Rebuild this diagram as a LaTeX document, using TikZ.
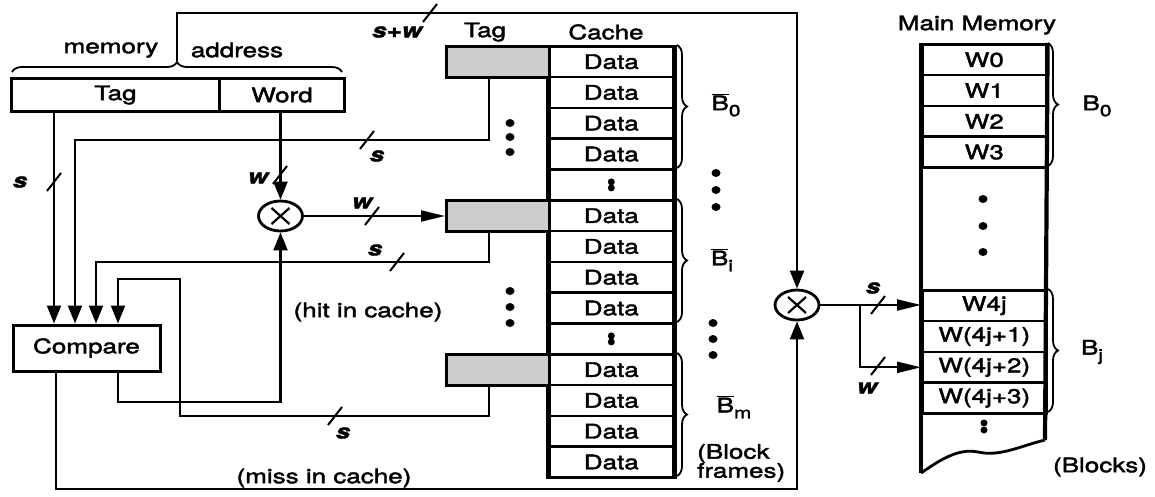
\documentclass[tikz,border=0pt]{standalone}
\usepackage{fontspec}
\setmainfont[FakeStretch=1.3,FakeBold=2]{TeX Gyre Heros}
\usetikzlibrary{arrows.meta,shapes.geometric,decorations.pathreplacing,calc}
\newcommand\busmark[1]{\draw[bus] ($(#1)+(-7,9)$) -- ($(#1)+(7,-9)$);}
\newcommand\obarB{$\overline{\mbox{B}}$}
\begin{document}
\begin{tikzpicture}[x=1pt,y=-1pt,
  every node/.style={font=\fontsize{20}{22}\selectfont, inner sep=0pt},
  wire/.style={line width=2.2pt},
  varr/.style={wire,-{Triangle[length=18pt,width=14pt]}},
  harr/.style={wire,-{Triangle[length=24pt,width=11pt]}},
  fieldbox/.style={draw,line width=3pt,minimum height=33pt,anchor=north west},
  rowbox/.style={draw,line width=2.6pt,minimum width=124pt,minimum height=30.8pt,anchor=north west},
  tagbox/.style={draw,line width=3pt,fill=black!20,minimum width=103pt,minimum height=30.8pt,anchor=north west},
  mult/.style={draw,ellipse,line width=2.8pt,minimum width=44pt,minimum height=30pt},
  bus/.style={line width=2pt},
  lbl/.style={font=\fontsize{20}{22}\selectfont\bfseries\itshape},
  brc/.style={decorate,decoration={brace,amplitude=10pt},line width=1.8pt},
  bigdot/.style={fill,ellipse,minimum width=9pt,minimum height=8pt},
  pairdot/.style={fill,circle,minimum size=7pt}
]
\useasboundingbox (0,0) rectangle (1155,496);

% ---- memory address
\node[fieldbox,minimum width=208pt] (tagf) at (10,77) {Tag};
\node[fieldbox,minimum width=125pt] (wordf) at (218,77) {Word};
\draw[brc] (12,72) -- (342,72);
\coordinate (addrtip) at (177,61);
\node (tmem) at (111,50) {memory};
\node (taddr) at (237,50) {address};

% ---- compare and multiplexers
\node[draw,line width=3pt,minimum width=147pt,minimum height=46pt] (cmp) at (86.5,348) {Compare};
\node[mult] (m1) at (280.5,216) {};
\node[mult] (m2) at (797,305) {};
\foreach \m in {m1,m2}{
  \draw[line width=2.2pt] ([shift={(-9,-8)}]\m.center) -- ([shift={(9,8)}]\m.center);
  \draw[line width=2.2pt] ([shift={(-9,8)}]\m.center) -- ([shift={(9,-8)}]\m.center);
}

% ---- cache
\node (ttag) at (485,32) {Tag};
\node (tcache) at (606,32) {Cache};
\foreach \i in {0,1,2,3,5,6,7,8,10,11,12,13}
  \node[rowbox] (d\i) at (548,{45+\i*30.8}) {Data};
\foreach \i in {4,9}{
  \node[rowbox] (d\i) at (548,{45+\i*30.8}) {};
  \node[pairdot] (dp\i a) at ($(d\i.center)+(0,-3)$) {};
  \node[pairdot] (dp\i b) at ($(d\i.center)+(0,3)$) {};
}
\draw[line width=4.2pt] (d0.north west) -- (d13.south west);
\draw[line width=4.2pt] (d0.north east) -- (d13.south east);
\node[tagbox] (tB0) at (445,45) {};
\node[tagbox] (tBi) at (445,199) {};
\node[tagbox] (tBm) at (445,353) {};

\draw[brc] (677,45) -- (677,168);
\draw[brc] (677,199) -- (677,322);
\draw[brc] (677,353) -- (677,476);
\node (lB0) at (726,105) {\obarB\raisebox{-0.3em}{\fontsize{16}{16}\selectfont 0}};
\node (lBi) at (722,260) {\obarB\raisebox{-0.3em}{\fontsize{16}{16}\selectfont i}};
\node (lBm) at (734,407) {\obarB\raisebox{-0.3em}{\fontsize{16}{16}\selectfont m}};
\node[anchor=west,align=left,font=\fontsize{20}{19}\selectfont] (blkf) at (697,463) {(Block\\frames)};

% dots
\foreach \y [count=\k] in {123,137,152} \node[bigdot] (ldA\k) at (510,\y) {};
\foreach \y [count=\k] in {291,307,323} \node[bigdot] (ldB\k) at (510,\y) {};
\foreach \y [count=\k] in {173,190,207} \node[bigdot] (rdA\k) at (716,\y) {};
\foreach \y [count=\k] in {323,339,355} \node[bigdot] (rdB\k) at (713,\y) {};

% ---- main memory
\node (tmain) at (977,25) {Main Memory};
\foreach \i/\t in {0/W0,1/W1,2/W2,3/W3}
  \node[rowbox] (w\i) at (921,{43+\i*30.8}) {\t};
\foreach \i/\t in {4/W4j,5/W(4j+1),6/W(4j+2),7/W(4j+3)}
  \node[rowbox] (w\i) at (921,{289+(\i-4)*30.8}) {\t};
\coordinate (colBL) at (921,473);
\coordinate (colBR) at (1045,440);
\draw[line width=4.2pt] (w0.north west) -- (colBL);
\draw[line width=4.2pt] (w0.north east) -- (colBR);
\draw[line width=2.8pt] (colBL) .. controls (940,460) and (958,448) .. (978,452)
   .. controls (1000,457) and (1020,446) .. (colBR);
\foreach \y [count=\k] in {199,226,252} \node[bigdot] (md\k) at (983,\y) {};
\node[pairdot] (mpa) at (984,423) {};
\node[pairdot] (mpb) at (984,430) {};
\draw[brc] (1048,43) -- (1048,166);
\draw[brc] (1048,289) -- (1048,412);
\node (mB0) at (1097,106) {B\raisebox{-0.3em}{\fontsize{16}{16}\selectfont 0}};
\node (mBj) at (1092,352) {B\raisebox{-0.3em}{\fontsize{16}{16}\selectfont j}};
\node (tblocks) at (1100,467) {(Blocks)};

% ---- connectors
\coordinate (tx) at (54,0);
\draw[varr] (tagf.south -| tx) -- (cmp.north -| tx);
\coordinate (b0turn) at (75,140);
\draw[varr] ([xshift=-9pt]tB0.south) |- (b0turn) -- (cmp.north -| b0turn);
\coordinate (biturn) at (96,262);
\draw[varr] ([xshift=-9pt]tBi.south) |- (biturn) -- (cmp.north -| biturn);
\coordinate (bmlow) at (180,416);
\coordinate (bmturn) at (118,279);
\draw[varr] ([xshift=-9pt]tBm.south) |- (bmlow) |- (bmturn) -- (cmp.north -| bmturn);
\coordinate (hitlow) at (118,402);
\draw[varr] (cmp.south -| hitlow) -- (hitlow) -| (m1.south);
\coordinate (misslow) at (56,489);
\draw[varr] (cmp.south -| misslow) -- (misslow) -| (m2.south);
\coordinate (toprow) at (0,13);
\draw[varr] (addrtip) |- (toprow -| m2) -- (m2.north);
\draw[varr] (wordf.south -| m1) -- (m1.north);
\draw[harr] (m1.east) -- (m1.east -| tBi.west);
\coordinate (br) at (860,305);
\draw[harr] (m2.east) -- (m2.east -| w4.west);
\draw[harr] (br) |- (w6.west);

% bus width marks
\busmark{430,13}
\busmark{54,182}
\busmark{280,175}
\busmark{367,140}
\busmark{372,216}
\busmark{397,262}
\busmark{335,416}
\busmark{878,305}
\busmark{878,366}
\node[lbl] (ls1) at (397,32) {s+w};
\node[lbl] (ls2) at (20,182) {s};
\node[lbl] (lw1) at (258,178) {w};
\node[lbl] (ls3) at (377,156) {s};
\node[lbl] (lw2) at (362,203) {w};
\node[lbl] (ls4) at (375,250) {s};
\node[lbl] (ls5) at (343,433) {s};
\node[lbl] (ls6) at (873,288) {s};
\node[lbl] (lw3) at (867,388) {w};

\node (thit) at (368,312) {(hit in cache)};
\node (tmiss) at (324,478) {(miss in cache)};
\end{tikzpicture}
\end{document}
